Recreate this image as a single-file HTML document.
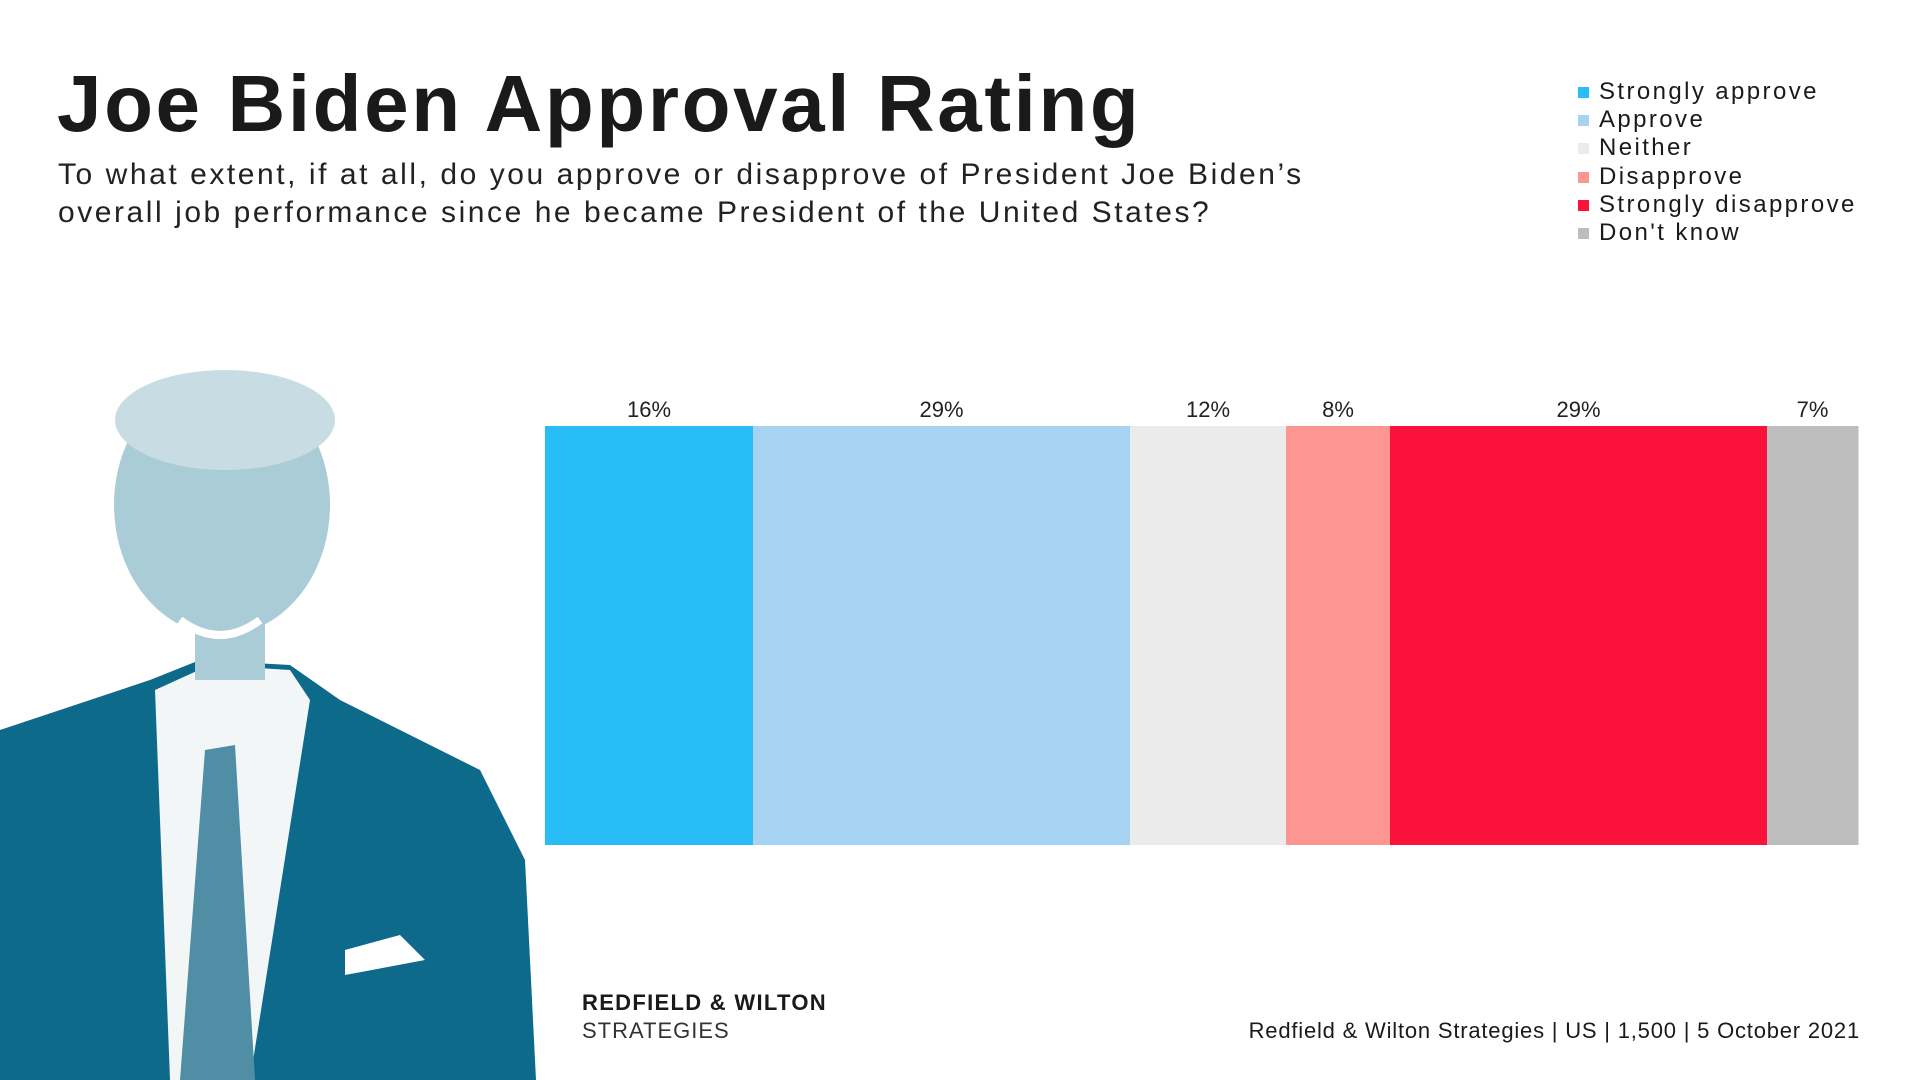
<!DOCTYPE html>
<html><head><meta charset="utf-8">
<style>
body{margin:0;width:1920px;height:1080px;background:#fff;overflow:hidden;font-family:"Liberation Sans",sans-serif;position:relative;color:#1a1a1a}
.abs{position:absolute}
#title{left:57px;top:58px;font-size:80px;font-weight:bold;letter-spacing:2.6px;white-space:nowrap}
#sub{left:58px;top:156px;font-size:30px;line-height:38px;color:#222;letter-spacing:2.55px;white-space:nowrap}
.leg{position:absolute;left:1578px;font-size:24px;white-space:nowrap;line-height:28px;letter-spacing:2.4px}
.leg span{display:inline-block;width:11px;height:11px;margin-right:10px;vertical-align:1px}
</style></head><body>
<div id="title" class="abs">Joe Biden Approval Rating</div>
<div id="sub" class="abs">To what extent, if at all, do you approve or disapprove of President Joe Biden’s<br>overall job performance since he became President of the United States?</div>
<div id="legend"></div>
<svg class="abs" style="left:0;top:0" width="1920" height="1080" id="chart">
<g>
<path d="M0 730 L150 680 L200 660 L290 665 L340 700 L480 770 L525 860 L536 1080 L0 1080 Z" fill="#0e6a8a"/>
<path d="M155 690 L210 665 L290 670 L310 700 L250 1080 L170 1080 Z" fill="#f2f6f7"/>
<path d="M205 750 L235 745 L255 1080 L180 1080 Z" fill="#4f8ea5"/>
<path d="M345 950 L400 935 L425 960 L345 975 Z" fill="#fff"/>
<rect x="195" y="600" width="70" height="80" fill="#a9ccd6"/>
<ellipse cx="222" cy="505" rx="108" ry="130" fill="#a9ccd6"/>
<ellipse cx="225" cy="420" rx="110" ry="50" fill="#c8dde3"/>
<path d="M180 620 Q220 650 260 620" stroke="#fff" stroke-width="8" fill="none"/>
</g>
</svg>
<div class="abs" style="left:582px;top:990px;font-size:22px;font-weight:bold;letter-spacing:1.3px">REDFIELD &amp; WILTON</div>
<div class="abs" style="left:582px;top:1018px;font-size:22px;color:#333;letter-spacing:1px">STRATEGIES</div>
<div class="abs" style="right:60px;top:1018px;font-size:22px;letter-spacing:0.8px">Redfield &amp; Wilton Strategies | US | 1,500 | 5 October 2021</div>
<script>
const categories=["Strongly approve","Approve","Neither","Disapprove","Strongly disapprove","Don't know"];
const values=[16,29,12,8,29,7];
const colors=["#29bdf6","#a6d3f2","#ebebeb","#fd9690","#fa123c","#bdbdbd"];
const svg=document.getElementById('chart');
const NS="http://www.w3.org/2000/svg";
const x0=545,x1=1858,y0=426,y1=845;
const total=values.reduce((a,b)=>a+b,0);
function xs(v){return v/total*(x1-x0);}
let cx=x0;
values.forEach((v,i)=>{
  const w=xs(v);
  const r=document.createElementNS(NS,'rect');
  r.setAttribute('x',cx);r.setAttribute('y',y0);r.setAttribute('width',w+0.5);r.setAttribute('height',y1-y0);r.setAttribute('fill',colors[i]);
  
  
  svg.appendChild(r);
  const t=document.createElementNS(NS,'text');
  t.setAttribute('x',cx+w/2);t.setAttribute('y',417);t.setAttribute('text-anchor','middle');
  t.setAttribute('font-size','22');t.setAttribute('fill','#222');t.setAttribute('font-family','Liberation Sans, sans-serif');
  t.textContent=v+'%';
  
  
  svg.appendChild(t);
  cx+=w;
});
const leg=document.getElementById('legend');
categories.forEach((c,i)=>{
  const d=document.createElement('div');
  d.className='leg';d.style.top=(78+i*28.2)+'px';
  d.innerHTML='<span style="background:'+colors[i]+'"></span>'+c;
  
  
  leg.appendChild(d);
});
</script>
</body></html>
